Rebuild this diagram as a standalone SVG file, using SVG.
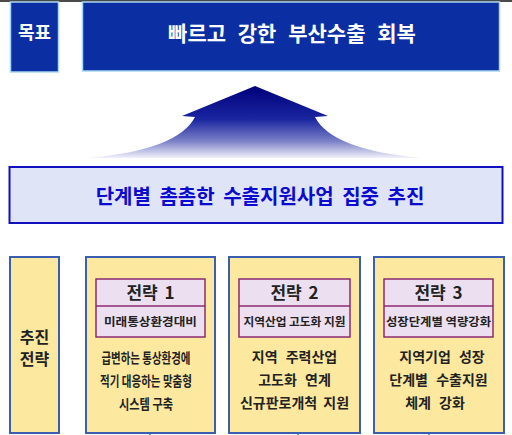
<svg xmlns="http://www.w3.org/2000/svg" width="512" height="435" viewBox="0 0 512 435">
<defs>
<style>
text{font-family:"Noto Sans CJK KR","Noto Sans",sans-serif;font-weight:bold;text-anchor:middle;}
.goal{fill:#0b2fa3;stroke:#a9d6f0;stroke-width:1.5;}
.wt{fill:#ffffff;}
.panel{fill:#fce99f;stroke:#3a5fb0;stroke-width:2;}
.head{fill:#ecdff0;stroke:#8c2a70;stroke-width:1.5;}
.dk{fill:#222222;}
.tt{font-size:17px;}
.st{font-size:11.5px;}
.bd{font-size:14px;}
</style>
<linearGradient id="ag" x1="0" y1="86" x2="0" y2="160" gradientUnits="userSpaceOnUse">
<stop offset="0" stop-color="#00007a"/>
<stop offset="0.45" stop-color="#1a26a0"/>
<stop offset="0.75" stop-color="#7d82c8"/>
<stop offset="1" stop-color="#ffffff"/>
</linearGradient>
</defs>
<rect x="0" y="0" width="512" height="435" fill="#ffffff"/>
<rect x="0" y="0" width="512" height="2" fill="#4a4a4a"/>

<g id="goal-label">
<rect class="goal" x="10.5" y="2" width="48" height="70"/>
<text class="wt" x="34.5" y="39" font-size="18">목표</text>
</g>
<g id="goal">
<rect class="goal" x="82.5" y="2" width="417" height="69"/>
<text class="wt" x="292" y="41" font-size="21" word-spacing="7">빠르고 강한 부산수출 회복</text>
</g>

<g id="arrow">
<path d="M255,86 L182,116 L195,117 Q178,150 88,158 L422,158 Q332,150 315,117 L328,116 Z" fill="url(#ag)"/>
</g>

<g id="focus">
<rect x="9.5" y="167" width="493" height="56" fill="#dfe4f7" stroke="#1010c0" stroke-width="2"/>
<text x="260" y="204" font-size="20" fill="#0a0ad0" word-spacing="4">단계별 촘촘한 수출지원사업 집중 추진</text>
</g>

<g id="strategy-label">
<rect class="panel" x="10" y="257" width="49" height="176"/>
<text class="dk" x="34.5" y="343" font-size="16">추진</text>
<text class="dk" x="34.5" y="365" font-size="16">전략</text>
</g>

<g id="strategy1">
<rect class="panel" x="86" y="257" width="129" height="176"/>
<rect class="head" x="96" y="279" width="109" height="58"/>
<line x1="96" y1="306" x2="205" y2="306" stroke="#8c2a70" stroke-width="1.5"/>
<text class="dk tt" x="150.5" y="299" word-spacing="3">전략 1</text>
<text class="dk st" x="150.5" y="326" textLength="93" lengthAdjust="spacingAndGlyphs">미래통상환경대비</text>
<text class="dk bd" x="146" y="363" textLength="89" lengthAdjust="spacingAndGlyphs">급변하는 통상환경에</text>
<text class="dk bd" x="146" y="386" textLength="92" lengthAdjust="spacingAndGlyphs">적기 대응하는 맞춤형</text>
<text class="dk bd" x="146" y="409" textLength="54" lengthAdjust="spacingAndGlyphs">시스템 구축</text>
</g>

<g id="strategy2">
<rect class="panel" x="229" y="257" width="131" height="176"/>
<rect class="head" x="239" y="279" width="111" height="58"/>
<line x1="239" y1="306" x2="350" y2="306" stroke="#8c2a70" stroke-width="1.5"/>
<text class="dk tt" x="294.5" y="299" word-spacing="3">전략 2</text>
<text class="dk st" x="294.5" y="326" textLength="102" lengthAdjust="spacingAndGlyphs">지역산업 고도화 지원</text>
<text class="dk bd" x="294.5" y="362" word-spacing="5">지역 주력산업</text>
<text class="dk bd" x="294.5" y="385" word-spacing="5">고도화 연계</text>
<text class="dk bd" x="294.5" y="408" word-spacing="3">신규판로개척 지원</text>
</g>

<g id="strategy3">
<rect class="panel" x="374" y="257" width="130" height="176"/>
<rect class="head" x="384" y="279" width="109" height="58"/>
<line x1="384" y1="306" x2="493" y2="306" stroke="#8c2a70" stroke-width="1.5"/>
<text class="dk tt" x="438.5" y="299" word-spacing="3">전략 3</text>
<text class="dk st" x="438.5" y="326" textLength="105" lengthAdjust="spacingAndGlyphs">성장단계별 역량강화</text>
<text class="dk bd" x="442" y="362" word-spacing="5">지역기업 성장</text>
<text class="dk bd" x="438.5" y="385" word-spacing="5">단계별 수출지원</text>
<text class="dk bd" x="435" y="408" word-spacing="5">체계 강화</text>
</g>

<g id="connectors">
<line x1="150" y1="433" x2="150" y2="435" stroke="#3a5fb0" stroke-width="1.5"/>
<line x1="298" y1="433" x2="298" y2="435" stroke="#3a5fb0" stroke-width="1.5"/>
<line x1="429" y1="433" x2="429" y2="435" stroke="#3a5fb0" stroke-width="1.5"/>
</g>
</svg>
